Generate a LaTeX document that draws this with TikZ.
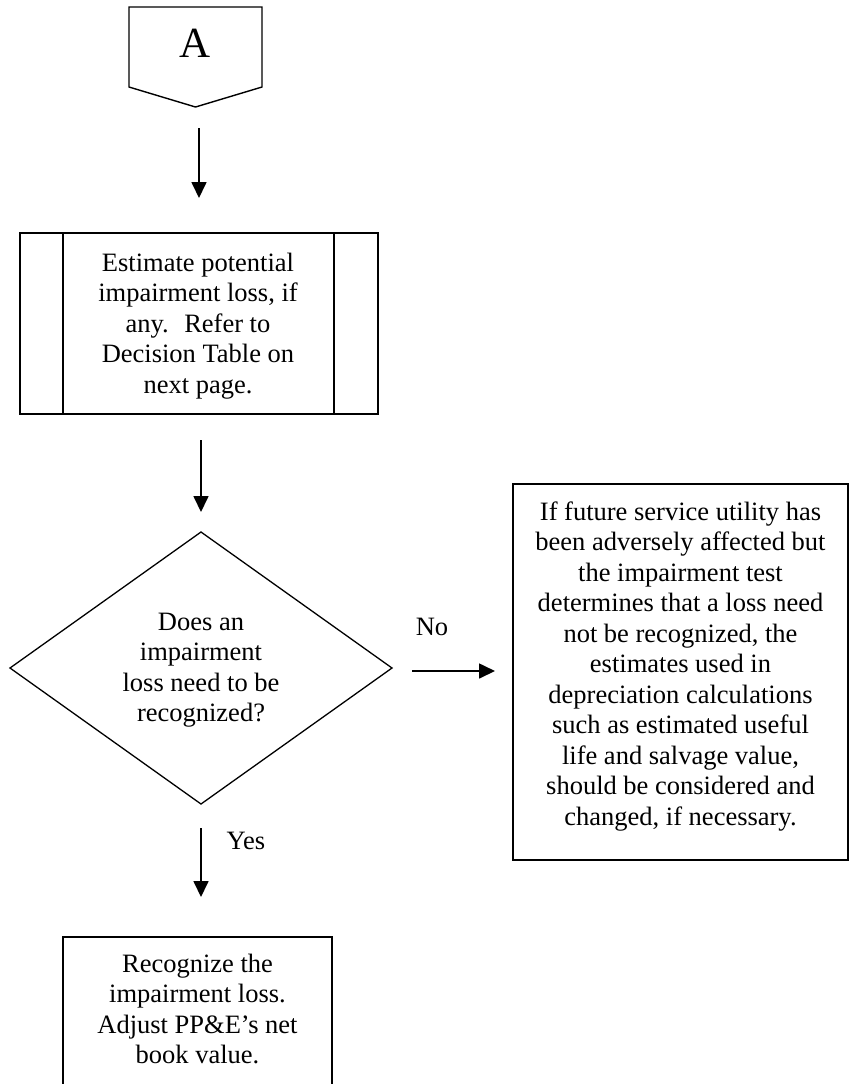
\documentclass[tikz,border=0pt]{standalone}
\usepackage{fontspec}
\setmainfont{Liberation Serif}
\usetikzlibrary{shapes.geometric,arrows.meta,calc}
\begin{document}
\begin{tikzpicture}[x=0.5pt,y=-0.5pt,
  txt/.style={font={\fontsize{13.25pt}{15.25pt}\selectfont}, align=center, inner sep=0pt},
  boxshape/.style={draw, line width=1pt, inner sep=0pt, outer sep=0pt},
  thinline/.style={line width=0.7pt},
  arr/.style={-{Triangle[length=8pt,width=7.5pt]}, line width=0.85pt}]
\useasboundingbox (0,0) rectangle (857,1084);
\clip (0,0) rectangle (857,1084);

% off-page connector A
\node[minimum width=66.5pt, minimum height=40pt, inner sep=0pt, outer sep=0pt] (conA) at (195.5,47) {};
\draw[thinline] (conA.south west) -- (conA.north west) -- (conA.north east) -- (conA.south east)
  -- ($(conA.south)+(0,20)$) coordinate (Atip) -- cycle;
\node[font={\fontsize{21.5pt}{24pt}\selectfont}, inner sep=0pt] (Alabel) at (195.5,43.5) {A};

% predefined process box
\node[boxshape, minimum width=179pt, minimum height=90.5pt] (box1) at (199,323.5) {};
\draw[thinline] ([xshift=21.5pt]box1.north west) -- ([xshift=21.5pt]box1.south west);
\draw[thinline] ([xshift=-22pt]box1.north east) -- ([xshift=-22pt]box1.south east);
\node[txt] (box1text) at (198,326) {Estimate potential\\impairment loss, if\\any.~ Refer to\\Decision Table on\\next page.};

% decision
\node[draw, diamond, aspect=1.4, line width=0.65pt, minimum width=191pt, minimum height=136pt,
  inner sep=0pt, outer sep=0pt] (dia) at (201,668) {};
\node[txt] (diatext) at (201,670) {Does an\\impairment\\loss need to be\\recognized?};

% right box
\node[boxshape, minimum width=167.5pt, minimum height=188pt] (box2) at (680.5,672) {};
\node[txt] (box2text) at (680.5,666.4) {If future service utility has\\been adversely affected but\\the impairment test\\determines that a loss need\\not be recognized, the\\estimates used in\\depreciation calculations\\such as estimated useful\\life and salvage value,\\should be considered and\\changed, if necessary.};

% bottom box
\node[boxshape, minimum width=134.5pt, minimum height=86.5pt] (box3) at (197.5,1023.5) {};
\node[txt] (box3text) at (197.5,1009) {Recognize the\\impairment loss.\\Adjust PP\&E’s net\\book value.};

% labels
\node[txt] (nolabel) at (432,626.5) {No};
\node[txt] (yeslabel) at (246,841) {Yes};

% connectors
\draw[arr, shorten <=10.5pt, shorten >=17.5pt] (box1.north |- Atip) -- (box1.north);
\draw[arr, shorten <=13pt, shorten >=10pt] (box1.south -| dia.north) -- (dia.north);
\draw[arr, shorten <=10pt, shorten >=9pt] ([yshift=-1.5pt]dia.east) -- ([yshift=-1.5pt]dia.east -| box2.west);
\draw[arr, shorten <=12pt, shorten >=20pt] (dia.south) -- (dia.south |- box3.north);
\end{tikzpicture}
\end{document}
